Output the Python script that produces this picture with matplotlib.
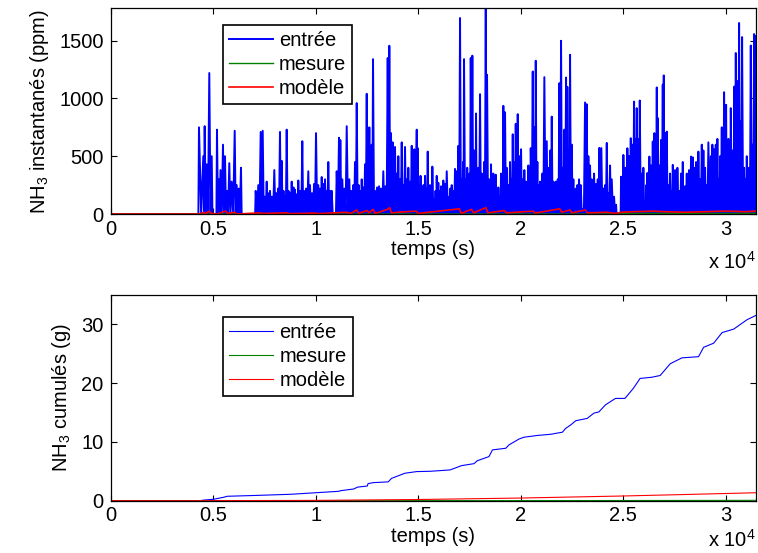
import numpy as np
import matplotlib
matplotlib.use("Agg")
import matplotlib.pyplot as plt
from matplotlib.ticker import FuncFormatter

# ---------------- data ----------------
# instantaneous NH3 entering (ppm): spike peaks (time in s, value in ppm)
t_in = [0, 4250, 4307, 4517, 4585, 4683, 4810, 4927, 5000, 5130, 5185, 5283, 5356, 5478, 5576,
        5673, 5785, 5902, 6049, 6146, 6244, 6356, 6420, 7020, 7073, 7200, 7317, 7415, 7512,
        7610, 7697, 7771, 7868, 7980, 8088, 8161, 8258, 8341, 8429, 8502, 8585, 8673, 8746,
        8829, 8917, 8990, 9073, 9151, 9249, 9346, 9429, 9527, 9639, 9722, 9819, 9917, 10015,
        10127, 10210, 10293, 10380, 10454, 10536, 10614, 10697, 10780, 10880, 10950, 11024,
        11136, 11200, 11298, 11405, 11512, 11639, 11737, 11834, 11917, 12000, 12097, 12176,
        12244, 12322, 12405, 12488, 12551, 12615, 12673, 12732, 12795, 12893, 12990, 13088,
        13185, 13297, 13405, 13512, 13590, 13673, 13756, 13819, 13868, 13951, 14029, 14112,
        14195, 14273, 14356, 14439, 14517, 14600, 14683, 14746, 14810, 14927, 14975, 15039,
        15112, 15185, 15258, 15332, 15395, 15463, 15527, 15575, 15634, 15688, 15785, 15844,
        15902, 15980, 16049, 16112, 16170, 16224, 16307, 16390, 16502, 16566, 16634, 16712,
        16795, 16878, 16956, 17039, 17122, 17185, 17234, 17332, 17390, 17444, 17502, 17561,
        17639, 17722, 17771, 17819, 17878, 17932, 18015, 18097, 18161, 18210, 18293, 18356,
        18454, 18502, 18551, 18610, 18663, 18722, 18780, 18844, 18907, 18975, 19039, 19088,
        19151, 19234, 19317, 19395, 19478, 19536, 19610, 19673, 19756, 19853, 19932, 20015,
        20097, 20175, 20258, 20317, 20371, 20429, 20488, 20585, 20663, 20732, 20810, 20878,
        20941, 21000, 21054, 21151, 21268, 21346, 21395, 21444, 21512, 21590, 21649, 21707,
        21805, 21883, 21966, 22049, 22127, 22210, 22273, 22356, 22405, 22488, 22566, 22624,
        22683, 22761, 22844, 22927, 23024, 23136, 23219, 23297, 23380, 23463, 23517, 23575,
        23673, 23756, 23834, 23931, 24029, 24112, 24195, 24273, 24356, 24439, 24551, 24649,
        24700, 24850, 24893, 24951, 25005, 25088, 25146, 25200, 25283, 25366, 25444, 25527,
        25610, 25658, 25736, 25805, 25902, 25980, 26063, 26122, 26175, 26273, 26356, 26439,
        26517, 26575, 26634, 26683, 26761, 26844, 26927, 26975, 27039, 27122, 27200, 27283,
        27346, 27415, 27527, 27585, 27639, 27736, 27819, 27902, 27966, 28015, 28097, 28161,
        28210, 28307, 28390, 28468, 28551, 28610, 28663, 28746, 28829, 28907, 28990, 29063,
        29151, 29268, 29346, 29429, 29512, 29590, 29663, 29722, 29805, 29858, 29917, 30015,
        30073, 30127, 30185, 30244, 30341, 30419, 30488, 30566, 30649, 30731, 30795, 30893,
        30956, 31024, 31088, 31136, 31219, 31297, 31380, 31453]
v_in = [0, 0, 750, 500, 760, 430, 1220, 500, 0, 0, 730, 300, 380, 600, 500,
        200, 440, 280, 720, 250, 220, 400, 0, 0, 200, 250, 710, 720, 150,
        280, 180, 200, 150, 380, 180, 220, 710, 460, 200, 150, 730, 200, 180,
        280, 230, 210, 170, 290, 200, 630, 200, 220, 370, 250, 180, 260, 700,
        250, 220, 320, 260, 300, 200, 450, 200, 200, 0, 0, 370,
        660, 640, 300, 220, 760, 300, 200, 250, 450, 960, 250, 200,
        300, 230, 430, 1040, 300, 750, 250, 600, 1340, 200, 230, 240,
        220, 370, 240, 1350, 1456, 700, 620, 300, 580, 350, 500, 300,
        620, 250, 580, 300, 400, 280, 590, 250, 560, 730, 570, 250,
        330, 230, 250, 330, 220, 540, 200, 250, 200, 410, 130, 200,
        330, 270, 200, 240, 180, 290, 260, 370, 150, 220, 250, 200,
        390, 370, 590, 1696, 300, 450, 1340, 300, 400, 230, 350, 1350,
        1370, 550, 300, 870, 350, 400, 1037, 350, 250, 450, 1780, 1205,
        300, 200, 430, 250, 350, 200, 340, 180, 230, 150, 350, 250,
        936, 880, 400, 250, 450, 300, 690, 450, 780, 864, 500, 560,
        300, 380, 280, 200, 420, 250, 570, 1233, 750, 1326, 450, 250,
        280, 200, 350, 1184, 630, 400, 250, 550, 843, 280, 200, 280,
        300, 1132, 1499, 400, 730, 1181, 1100, 550, 1378, 600, 300, 200,
        220, 250, 300, 250, 40, 965, 950, 500, 420, 300, 200, 350,
        260, 300, 572, 570, 220, 250, 615, 180, 420, 300, 150, 80,
        0, 0, 323, 250, 511, 400, 300, 569, 500, 656, 600, 973,
        650, 916, 650, 982, 350, 400, 100, 250, 355, 497, 420, 627,
        700, 400, 1095, 830, 420, 641, 1120, 1199, 700, 713, 250, 350,
        200, 425, 380, 200, 400, 200, 350, 450, 200, 240, 350, 200,
        380, 497, 490, 400, 450, 250, 540, 300, 600, 550, 400, 250,
        620, 500, 600, 560, 600, 650, 300, 500, 750, 480, 1054, 945,
        500, 650, 400, 916, 550, 1103, 1393, 1150, 1653, 800, 1531, 400,
        300, 500, 250, 400, 1458, 600, 1557, 1540]

# instantaneous NH3 measured / modelled at the outlet (ppm)
t_mes = [0, 24000, 25000, 27000, 29000, 31460]
v_mes = [0, 0, 5, 6, 5, 6]
t_mod = [0, 4300, 4550, 4600, 4800, 4900, 5200, 5500, 5600, 5700, 6050, 6150, 7300, 7400,
         8600, 8700, 10000, 10100, 11500, 11700, 12000, 12100, 12500, 12600, 12800, 12900,
         13500, 13600, 13700, 14000, 14900, 15000, 17000, 17100, 17600, 17700, 18300, 18400,
         19200, 19300, 20600, 20700, 21900, 22000, 22400, 22500, 23150, 23250, 24200, 24600,
         24900, 25500, 26500, 27000, 28000, 29000, 30000, 31000, 31460]
v_mod = [0, 0, 15, 0, 25, 5, 0, 20, 25, 5, 15, 0, 10, 5,
         10, 3, 8, 3, 15, 5, 35, 5, 30, 10, 40, 5,
         40, 55, 10, 15, 25, 5, 45, 5, 40, 10, 55, 10,
         30, 10, 25, 8, 45, 15, 35, 10, 35, 10, 15, 5,
         15, 20, 25, 20, 15, 20, 25, 20, 25]

# cumulated NH3 (g)
t_cum_in = [0, 4365, 4530, 5020, 5510, 5680, 7140, 8780, 10080, 11135, 11215, 11865,
            12030, 12520, 12550, 12800, 13535, 13700, 14350, 14920, 15570, 16550, 17120,
            17720, 17880, 18450, 18620, 19270, 19430, 19920, 20160, 20810, 21460, 22030,
            22190, 22440, 22680, 23240, 23570, 23810, 24130, 24620, 25080, 25490, 25820,
            26390, 26800, 27290, 27860, 28670, 28920, 29410, 29820, 30390, 31040, 31460]
v_cum_in = [0, 0, 0.1, 0.24, 0.58, 0.75, 0.9, 1.09, 1.37, 1.6, 1.7, 2.0,
            2.3, 2.5, 2.9, 3.07, 3.2, 3.8, 4.67, 4.95, 5.0, 5.23, 5.97,
            6.3, 6.8, 7.5, 8.64, 8.92, 9.5, 10.5, 10.8, 11.1, 11.3, 11.65,
            12.3, 12.9, 13.6, 14.0, 14.9, 15.1, 16.3, 17.4, 17.4, 19.1, 20.8,
            21.0, 21.3, 23.3, 24.3, 24.5, 26.1, 26.8, 28.6, 29.2, 30.8, 31.5]
t_cum_mes = [0, 20000, 25000, 31460]
v_cum_mes = [0, 0.01, 0.03, 0.06]
t_cum_mod = [0, 4300, 10000, 15000, 20000, 25000, 28000, 31460]
v_cum_mod = [0, 0, 0.05, 0.2, 0.45, 0.8, 1.05, 1.35]

labels = ["entrée", "mesure", "modèle"]
x_ticks = [0, 5000, 10000, 15000, 20000, 25000, 30000]
x_max = 31460

# ---------------- style ----------------
plt.rcParams['font.family'] = ['Liberation Sans', 'DejaVu Sans']
plt.rcParams['mathtext.fontset'] = 'custom'
plt.rcParams['mathtext.rm'] = 'Liberation Sans'
plt.rcParams['mathtext.it'] = 'Liberation Sans:italic'
FS = 14.5

fig = plt.figure(figsize=(7.58, 5.53), dpi=100)
ax1 = fig.add_axes([0.146, 0.613, 0.851, 0.372])
ax2 = fig.add_axes([0.146, 0.0946, 0.851, 0.372])

# spike train: each reading drawn as a spike rising from zero
t_arr = np.asarray(t_in, float)
v_arr = np.asarray(v_in, float)
mid = (t_arr[:-1] + t_arr[1:]) / 2
tt = np.empty(len(t_arr) * 2 - 1)
vv = np.zeros_like(tt)
tt[0::2] = t_arr
vv[0::2] = v_arr
tt[1::2] = mid

ax1.plot(tt, vv, color=(0, 0, 1), lw=1.4, label=labels[0])
ax1.plot(t_mes, v_mes, color=(0, 0.5, 0), lw=1.0, label=labels[1])
ax1.plot(t_mod, v_mod, color=(1, 0, 0), lw=1.2, label=labels[2])

ax2.plot(t_cum_in, v_cum_in, color=(0, 0, 1), lw=0.8, label=labels[0])
ax2.plot(t_cum_mes, v_cum_mes, color=(0, 0.5, 0), lw=0.8, label=labels[1])
ax2.plot(t_cum_mod, v_cum_mod, color=(1, 0, 0), lw=0.8, label=labels[2])

fmt = FuncFormatter(lambda x, p: ('%g' % (x / 1e4)))
for ax, ylim, yt, ylab, leg_anchor in [
        (ax1, 1780, [0, 500, 1000, 1500], r'NH$_3$ instantanés (ppm)', (0.1736, 0.919)),
        (ax2, 35, [0, 10, 20, 30], r'NH$_3$ cumulés (g)', (0.174, 0.893))]:
    ax.set_xlim(0, x_max)
    ax.set_ylim(0, ylim)
    ax.set_xticks(x_ticks)
    ax.xaxis.set_major_formatter(fmt)
    ax.set_yticks(yt)
    ax.tick_params(direction='in', top=True, right=True, length=4, width=0.8,
                   labelsize=FS, pad=4)
    ax.tick_params(axis='y', pad=5)
    for s in ax.spines.values():
        s.set_linewidth(0.9)
    ax.set_xlabel('temps (s)', fontsize=FS, labelpad=1)
    ax.set_ylabel(ylab, fontsize=FS, labelpad=6)
    leg = ax.legend(loc='upper left', bbox_to_anchor=leg_anchor, borderaxespad=0,
                    fontsize=FS, fancybox=False, framealpha=1, edgecolor='black',
                    handlelength=2.2, handletextpad=0.3, labelspacing=0.25,
                    borderpad=0.3)
    leg.get_frame().set_linewidth(1.2)

fig.text(0.997, 1 - 262 / 553, r'x 10$^{4}$', ha='right', va='center', fontsize=FS)
fig.text(0.997, 2 / 553, r'x 10$^{4}$', ha='right', va='bottom', fontsize=FS)

fig.savefig('out.png', dpi=100)
